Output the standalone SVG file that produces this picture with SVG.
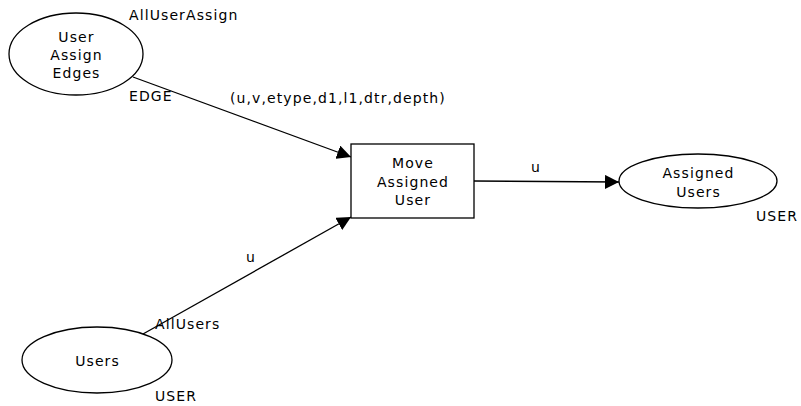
<svg xmlns="http://www.w3.org/2000/svg" width="801" height="406" viewBox="0 0 801 406">
  <style>
    text { font-family: "DejaVu Sans", Verdana, sans-serif; font-size: 14px; letter-spacing: 1.1px; fill: #000; }
    .c { text-anchor: middle; }
    .place { fill: #fff; stroke: #000; stroke-width: 1.3; }
    .trans { fill: #fff; stroke: #000; stroke-width: 1.3; }
    .arc { stroke: #000; stroke-width: 1.3; fill: none; marker-end: url(#arrow); }
  </style>
  <defs>
    <marker id="arrow" viewBox="0 0 10 10" refX="10" refY="5" markerWidth="14" markerHeight="14" markerUnits="userSpaceOnUse" orient="auto">
      <path d="M0,0 L10,5 L0,10 Z" fill="#000"/>
    </marker>
  </defs>

  <g id="connectors">
    <line class="arc" x1="133" y1="77" x2="351" y2="157"/>
    <line class="arc" x1="143" y1="334" x2="351" y2="217"/>
    <line class="arc" x1="474" y1="181" x2="619" y2="182"/>
    <text x="230" y="103">(u,v,etype,d1,l1,dtr,depth)</text>
    <text x="246" y="262">u</text>
    <text x="531" y="172">u</text>
  </g>

  <g id="user-assign-edges">
    <ellipse class="place" cx="76" cy="54" rx="67" ry="41"/>
    <text class="c" x="76.5" y="42">User</text>
    <text class="c" x="76.5" y="60">Assign</text>
    <text class="c" x="76.5" y="78">Edges</text>
    <text x="129" y="20">AllUserAssign</text>
    <text x="129" y="101">EDGE</text>
  </g>

  <g id="move-assigned-user">
    <rect class="trans" x="351" y="144" width="123" height="74"/>
    <text class="c" x="413" y="168">Move</text>
    <text class="c" x="413" y="187">Assigned</text>
    <text class="c" x="413" y="205">User</text>
  </g>

  <g id="assigned-users">
    <ellipse class="place" cx="698" cy="181" rx="79" ry="27"/>
    <text class="c" x="698.5" y="178">Assigned</text>
    <text class="c" x="698.5" y="197">Users</text>
    <text x="756" y="221">USER</text>
  </g>

  <g id="users">
    <ellipse class="place" cx="97" cy="360" rx="75" ry="33"/>
    <text class="c" x="97.5" y="366">Users</text>
    <text x="155" y="329">AllUsers</text>
    <text x="155" y="401">USER</text>
  </g>
</svg>
